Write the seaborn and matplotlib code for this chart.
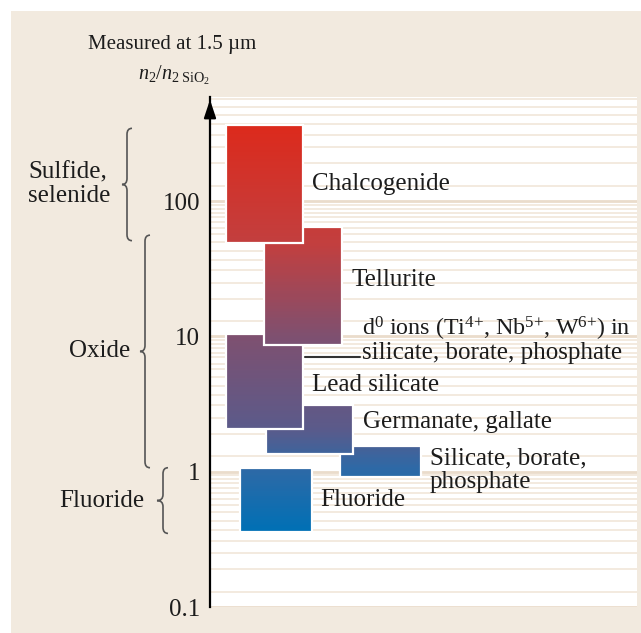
import numpy as np
import matplotlib
matplotlib.use("Agg")
import matplotlib.pyplot as plt
import seaborn as sns
from matplotlib.colors import LinearSegmentedColormap, Normalize
from matplotlib.patches import Rectangle, PathPatch
from matplotlib.path import Path
from matplotlib.ticker import FixedLocator, NullFormatter

# ---------------- data ----------------
materials = ["Chalcogenide", "Tellurite", "Lead silicate",
             "Germanate, gallate", "Silicate, borate,\nphosphate", "Fluoride"]
n2_low = [48.7, 8.6, 2.07, 1.35, 0.91, 0.36]
n2_high = [365, 64.6, 10.5, 3.13, 1.54, 1.06]
d0_lines = [r"d$^{0}$ ions (Ti$^{4\text{+}}$, Nb$^{5\text{+}}$, W$^{6\text{+}}$) in",
            "silicate, borate, phosphate"]
d0_level = 7.0
tick_values = [0.1, 1, 10, 100]
tick_labels = ["0.1", "1", "10", "100"]
groups = ["Sulfide,\nselenide", "Oxide", "Fluoride"]
group_low = [51, 1.07, 0.35]
group_high = [345, 56, 1.07]
title_text = "Measured at 1.5 µm"
axis_text = r"$n_2/n_{2\ \mathrm{SiO_2}}$"

# ---------------- layout (pixels from the axis line) ----------------
box_x = [(16, 93), (54, 132), (16, 93), (56, 143), (130, 211), (30, 102)]
label_xy = [(102, 133), (142, 26), (102, 4.4), (153, 2.34), (220, 1.03), (110, 0.62)]
draw_order = [5, 4, 3, 2, 1, 0]
d0_text_pos = [(152, 11.4, 17.3), (152, 7.55, 18)]
d0_line_x = (95, 150)
brace_x = [(132, 127, 122), (150, 145, 140), (168, 163, 157)]
group_text = [(28, "left"), (130, "right"), (144, "right")]

W, H = 641, 633
sns.set_theme(style="white")
plt.rcParams["font.family"] = ["Liberation Serif", "DejaVu Serif"]
plt.rcParams["mathtext.fontset"] = "custom"
plt.rcParams["mathtext.rm"] = "Liberation Serif"
plt.rcParams["mathtext.it"] = "Liberation Serif:italic"
plt.rcParams["mathtext.bf"] = "Liberation Serif:bold"

TXT = "#1c1c1c"
BEIGE = "#F2EADF"
FS = 18
LS = 1.08

fig = plt.figure(figsize=(W / 100, H / 100), dpi=100, facecolor="white")
bg = fig.add_axes([0, 0, 1, 1], zorder=0)
bg.set_xlim(0, W)
bg.set_ylim(H, 0)
bg.axis("off")
bg.add_patch(Rectangle((11, 11), W - 11, H - 11, facecolor=BEIGE, edgecolor="none"))

left, right, top, bottom = 210, 637, 97, 607
ax = fig.add_axes([left / W, (H - bottom) / H, (right - left) / W, (bottom - top) / H], zorder=1)
ax.set_facecolor("white")
ax.set_yscale("log")
ax.set_ylim(0.1, 588)
ax.set_xlim(0, right - left)

# grid
subs = [1.3, 1.9, 2.5, 3.1, 3.7, 4.3, 5.0, 5.7, 6.3, 7.0, 7.6, 8.2, 8.8, 9.4]
minor = [s * 10.0 ** d for d in range(-1, 3) for s in subs]
ax.yaxis.set_major_locator(FixedLocator(tick_values))
ax.set_yticklabels(tick_labels)
ax.yaxis.set_minor_locator(FixedLocator(minor))
ax.yaxis.set_minor_formatter(NullFormatter())
ax.grid(True, axis="y", which="major", color="#EADCCB", lw=2.0)
ax.grid(True, axis="y", which="minor", color="#F1E6D9", lw=1.2)
ax.set_xticks([])
ax.tick_params(axis="y", which="both", length=0, pad=7, labelsize=FS, labelcolor=TXT)
for s in ["top", "right", "bottom"]:
    ax.spines[s].set_visible(False)
ax.spines["left"].set_color("black")
ax.spines["left"].set_linewidth(1.6)
ax.set_axisbelow(True)
ax.annotate("", xy=(0, 1.0), xytext=(0, 0.96), xycoords="axes fraction",
            arrowprops=dict(arrowstyle="-|>,head_length=0.9,head_width=0.3",
                            color="black", lw=1.6), annotation_clip=False)

# colour ramp: red at high n2, blue at low n2
lo_c, hi_c = np.log10(0.36), np.log10(365)
cmap = LinearSegmentedColormap.from_list("n2", [
    (0.0, "#0070B5"), (0.156, "#2E69A6"), (0.253, "#5B5A8A"),
    (0.48, "#7E5070"), (0.707, "#C23F3F"), (1.0, "#DC2A1C")])
norm = Normalize(lo_c, hi_c)

for z, i in enumerate(draw_order):
    x0, x1 = box_x[i]
    ye = np.geomspace(n2_low[i], n2_high[i], 80)
    mids = np.log10(np.sqrt(ye[:-1] * ye[1:]))
    ax.pcolormesh([x0, x1], ye, mids[:, None], cmap=cmap, norm=norm,
                  shading="flat", zorder=3 + 2 * z)
    ax.add_patch(Rectangle((x0, n2_low[i]), x1 - x0, n2_high[i] - n2_low[i],
                           facecolor="none", edgecolor="white", lw=1.6, zorder=4 + 2 * z))
    lx, ly = label_xy[i]
    ax.text(lx, ly, materials[i], fontsize=FS, color=TXT, ha="left", va="center",
            linespacing=LS, zorder=20)

for line, (tx, ty, fs) in zip(d0_lines, d0_text_pos):
    ax.text(tx, ty, line, fontsize=fs, color=TXT, ha="left", va="center", zorder=20)
ax.plot(list(d0_line_x), [d0_level, d0_level], color="#333333", lw=1.5, zorder=20)

# braces and group labels (in pixel overlay)
over = fig.add_axes([0, 0, 1, 1], zorder=2)
over.set_xlim(0, W)
over.set_ylim(H, 0)
over.axis("off")
over.patch.set_alpha(0)
inv = over.transData.inverted()


def ypix(v):
    return inv.transform(ax.transData.transform((0, v)))[1]


def brace(xe, xv, xt, yt, yb, r=6):
    ym = (yt + yb) / 2
    verts = [(xe, yt), (xv, yt), (xv, yt + r), (xv, ym - r), (xv, ym), (xt, ym),
             (xv, ym), (xv, ym + r), (xv, yb - r), (xv, yb), (xe, yb)]
    codes = [Path.MOVETO, Path.CURVE3, Path.CURVE3, Path.LINETO, Path.CURVE3, Path.CURVE3,
             Path.CURVE3, Path.CURVE3, Path.LINETO, Path.CURVE3, Path.CURVE3]
    over.add_patch(PathPatch(Path(verts, codes), facecolor="none", edgecolor="#555555", lw=1.2))
    return ym


for g in range(len(groups)):
    xe, xv, xt = brace_x[g]
    yt, yb = ypix(group_high[g]), ypix(group_low[g])
    ym = brace(xe, xv, xt, yt, yb)
    gx, ha = group_text[g]
    over.text(gx, ym, groups[g], fontsize=FS, color=TXT, ha=ha, va="center", linespacing=LS)

over.text(88, 45, title_text, fontsize=15, color=TXT, ha="left", va="center")
over.text(138, 75, axis_text, fontsize=14.5, color=TXT, ha="left", va="center")

fig.savefig("out.png", dpi=100, facecolor="white")
